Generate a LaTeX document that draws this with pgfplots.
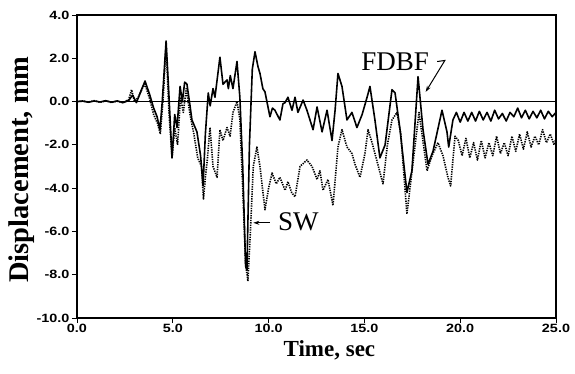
\documentclass[border=0pt]{standalone}
\usepackage{fontspec}
\setmainfont{Liberation Serif}
\newfontfamily\tickfont{Liberation Sans}[FakeStretch=1.2]
\usepackage{pgfplots}
\pgfplotsset{compat=1.18}
\usetikzlibrary{arrows.meta}
\begin{document}
\begin{tikzpicture}
\begin{axis}[
  at={(0,0)}, anchor=south west,
  scale only axis, width=479pt, height=303pt,
  xmin=0, xmax=25, ymin=-10, ymax=4,
  xtick={0,5,...,25}, ytick={-10,-8,...,4},
  tick pos=left, tick align=outside, major tick length=5pt,
  axis line style={line width=1.1pt},
  tick style={line width=0.9pt, black},
  /pgf/number format/assume math mode=true,
  /pgf/number format/.cd, fixed, fixed zerofill, precision=1, /pgfplots/.cd,
  ticklabel style={font=\tickfont\bfseries\fontsize{12}{13}\selectfont},
  yticklabel style={xshift=1pt},
  xticklabel style={yshift=2pt},
  xlabel={Time, sec},
  ylabel={Displacement, mm},
  xlabel style={font=\bfseries\fontsize{23}{26}\selectfont, at={(axis description cs:0.527,0)}, anchor=north, yshift=-19pt},
  ylabel style={font=\bfseries\fontsize{28.5}{30}\selectfont, at={(axis description cs:-0.116,0.49)}, anchor=center},
  clip=true,
]
% zero line
\addplot[black, line width=0.9pt] coordinates {(0,0) (25,0)};
% FDBF (solid)
\addplot[black, line width=1.6pt, line join=round] coordinates {
(0,0) (0.3,0.02) (0.6,-0.03) (0.9,0.03) (1.2,-0.02) (1.5,0.04) (1.8,-0.03) (2.1,0.03) (2.4,-0.05) (2.7,0.05)
(2.9,0.3) (3.1,-0.05) (3.3,0.4) (3.55,0.95) (3.8,0.3) (4.0,-0.3) (4.18,-0.7) (4.33,-1.3) (4.45,0.0)
(4.65,2.8) (4.78,0.6) (4.96,-2.6) (5.1,-0.6) (5.22,-1.2) (5.38,0.7) (5.5,0.0) (5.62,0.9) (5.74,0.8)
(5.9,-0.2) (6.0,-0.85) (6.26,-1.4) (6.45,-2.5) (6.58,-3.9) (6.7,-1.5) (6.85,0.4) (6.95,-0.2) (7.1,0.6)
(7.2,0.2) (7.46,2.05) (7.62,0.8) (7.83,1.0) (7.9,0.6) (8.0,1.2) (8.14,0.6) (8.35,1.85) (8.5,0.2)
(8.65,-3.0) (8.8,-7.6) (8.87,-7.8) (9.0,-2.0) (9.15,1.5) (9.29,2.3) (9.45,1.6) (9.55,1.3) (9.7,0.6)
(9.81,0.45) (10.07,-0.7) (10.2,-0.3) (10.33,-0.4) (10.59,-0.85) (10.75,-0.1) (10.86,-0.05) (11.01,0.2)
(11.22,-0.4) (11.38,0.2) (11.53,-0.5) (11.8,0.07) (12.0,-0.4) (12.32,-1.3) (12.53,-0.25) (12.79,-1.4)
(13.05,-0.4) (13.31,-1.8) (13.47,-0.4) (13.62,1.3) (13.83,0.7) (14.09,-0.85) (14.35,-0.5) (14.61,-1.2)
(14.88,-0.6) (15.14,0.2) (15.29,0.7) (15.55,-0.85) (15.81,-2.6) (16.08,-2.0) (16.44,0.55) (16.6,0.4)
(16.86,-1.3) (17.22,-4.2) (17.48,-3.2) (17.8,1.15) (18.06,-1.3) (18.32,-2.9) (18.58,-2.3) (19.05,-0.4)
(19.31,-1.4) (19.4,-2.1) (19.62,-0.85) (19.8,-0.5) (20.0,-0.95) (20.2,-0.5) (20.4,-0.9) (20.6,-0.5)
(20.8,-0.9) (21.0,-0.45) (21.2,-0.85) (21.4,-0.5) (21.6,-0.9) (21.8,-0.4) (22.0,-0.8) (22.2,-0.55)
(22.4,-0.9) (22.6,-0.5) (22.8,-0.7) (23.0,-0.3) (23.2,-0.75) (23.4,-0.4) (23.6,-0.8) (23.8,-0.45)
(24.0,-0.75) (24.2,-0.4) (24.4,-0.8) (24.6,-0.45) (24.8,-0.7) (25.0,-0.5)
};
% SW (dotted)
\addplot[black, line width=1.6pt, dash pattern=on 1.3pt off 1.1pt, line join=round] coordinates {
(0,0) (0.3,0.03) (0.6,-0.02) (0.9,0.04) (1.2,-0.03) (1.5,0.03) (1.8,-0.04) (2.1,0.02) (2.4,-0.05) (2.7,0.1)
(2.85,0.55) (3.0,0.0) (3.2,0.2) (3.4,0.6) (3.55,0.8) (3.8,0.1) (4.0,-0.6) (4.2,-1.0) (4.35,-1.5) (4.5,0.2)
(4.65,2.6) (4.8,-0.5) (4.96,-2.6) (5.1,-1.2) (5.25,-2.0) (5.4,0.2) (5.55,-0.5) (5.7,0.6) (5.9,-0.6)
(6.1,-1.5) (6.3,-2.6) (6.5,-3.0) (6.6,-4.5) (6.7,-3.5) (6.8,-2.7) (6.94,-1.2) (7.1,-3.0) (7.31,-3.5)
(7.46,-1.3) (7.62,-1.8) (7.83,-1.2) (7.99,-1.6) (8.14,-0.5) (8.35,0.0) (8.5,-0.8) (8.65,-4.0) (8.8,-7.5)
(8.92,-8.3) (9.05,-6.0) (9.2,-3.0) (9.39,-2.1) (9.55,-3.0) (9.81,-5.0) (10.0,-4.0) (10.18,-3.3) (10.4,-3.8)
(10.59,-3.5) (10.86,-4.1) (11.01,-3.7) (11.2,-4.2) (11.38,-4.4) (11.64,-3.0) (12.0,-2.7) (12.27,-3.0)
(12.53,-3.6) (12.68,-3.2) (12.84,-4.1) (13.1,-3.6) (13.36,-4.8) (13.62,-2.1) (13.83,-1.3) (14.09,-2.1)
(14.35,-2.4) (14.51,-2.9) (14.77,-3.5) (15.03,-2.4) (15.19,-1.3) (15.4,-1.9) (15.7,-2.9) (15.97,-3.8)
(16.2,-2.0) (16.44,-0.85) (16.7,-0.5) (16.9,-1.5) (17.22,-5.2) (17.54,-2.8) (17.85,-0.5) (18.27,-3.2)
(18.53,-2.5) (18.84,-1.9) (19.1,-2.5) (19.36,-3.5) (19.5,-3.9) (19.73,-1.6) (19.9,-1.8) (20.1,-2.5)
(20.3,-1.7) (20.5,-2.6) (20.7,-1.9) (20.9,-2.7) (21.1,-1.8) (21.3,-2.6) (21.5,-1.9) (21.7,-2.5) (21.9,-1.6)
(22.1,-2.4) (22.3,-1.9) (22.5,-2.5) (22.7,-1.6) (22.9,-2.3) (23.1,-1.5) (23.3,-2.2) (23.5,-1.4) (23.7,-2.1)
(23.9,-1.6) (24.1,-2.0) (24.3,-1.3) (24.5,-1.9) (24.7,-1.5) (24.9,-2.0) (25.0,-1.7)
};
\node[font=\fontsize{27}{30}\selectfont, inner sep=0pt] at (axis cs:16.6,1.85) {FDBF};
\draw[line width=1pt, -{Stealth[length=6pt,width=4pt]}] (axis cs:18.8,1.85) -- (axis cs:19.2,1.9) -- (axis cs:18.2,0.45);
\node[font=\fontsize{27}{30}\selectfont, inner sep=0pt] at (axis cs:11.55,-5.55) {SW};
\draw[line width=1pt, -{Stealth[length=6pt,width=4pt]}] (axis cs:10.05,-5.6) -- (axis cs:9.2,-5.6);
\end{axis}
\pgfresetboundingbox
\useasboundingbox (-77pt,-55pt) rectangle (498pt,318pt);
\end{tikzpicture}
\end{document}
